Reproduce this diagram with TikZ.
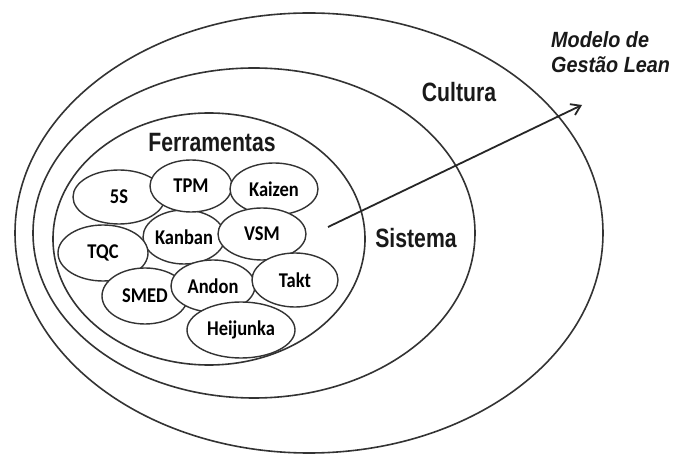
\documentclass[tikz,border=0pt]{standalone}
\usepackage{fontspec}
\usetikzlibrary{shapes.geometric,arrows.meta}
\newfontfamily\ringfont[FakeStretch=0.8]{Liberation Sans}
\newfontfamily\leanfont[FakeStretch=0.9]{Liberation Sans}
\newfontfamily\toolfont[FakeStretch=0.88]{Carlito}
\begin{document}
\begin{tikzpicture}[x=1pt,y=-1pt,
  ring/.style={draw=black!80, line width=1.6pt, ellipse, inner sep=0pt},
  tool/.style={draw=black!80, fill=white, line width=1.4pt, ellipse, inner sep=0pt,
    font=\toolfont\bfseries\fontsize{21}{23}\selectfont},
  ringlabel/.style={inner sep=0pt, anchor=base, text=black!90,
    font=\ringfont\bfseries\fontsize{26.5}{30}\selectfont}]
\useasboundingbox[fill=white] (0,0) rectangle (678,454);

% nested levels of the model
\node[ring, minimum width=588pt, minimum height=440pt] (cultura) at (309,233) {};
\node[ring, minimum width=442pt, minimum height=330pt] (sistema) at (254,233) {};
\node[ring, minimum width=312pt, minimum height=252pt] (ferramentas) at (209,239) {};

% level names
\node[ringlabel] (lblcult) at (459,102) {Cultura};
\node[ringlabel] (lblsist) at (416,248) {Sistema};
\node[ringlabel] (lblferr) at (212,152) {Ferramentas};

% lean tools, back to front
\node[tool, minimum width=78pt, minimum height=54pt] (kanban) at (184,237) {Kanban};
\node[tool, minimum width=92pt, minimum height=54pt] (s5) at (119,197) {5S};
\node[tool, minimum width=82pt, minimum height=52pt] (tpm) at (191,186) {TPM};
\node[tool, minimum width=88pt, minimum height=52pt] (kaizen) at (274,189) {Kaizen};
\node[tool, minimum width=88pt, minimum height=52pt] (vsm) at (262,234) {VSM};
\node[tool, minimum width=90pt, minimum height=56pt] (tqc) at (103,253) {TQC};
\node[tool, minimum width=86pt, minimum height=56pt] (smed) at (145,296) {SMED};
\node[tool, minimum width=84pt, minimum height=52pt] (andon) at (213,286) {Andon};
\node[tool, minimum width=86pt, minimum height=54pt] (takt) at (295,280) {Takt};
\node[tool, minimum width=108pt, minimum height=56pt] (heijunka) at (241,330) {Heijunka};

% outcome
\node[inner sep=0pt, anchor=north west, align=left, text=black!90,
  font=\leanfont\bfseries\itshape\fontsize{22}{25}\selectfont] (modelo) at (551,31)
  {Modelo de\\Gestão Lean};

\coordinate (start) at (328,227);
\coordinate (tip) at (582,105);
\draw[black!85, line width=1.8pt, -{Straight Barb[length=9pt,width=12pt]}] (start) -- (tip);
\end{tikzpicture}
\end{document}
